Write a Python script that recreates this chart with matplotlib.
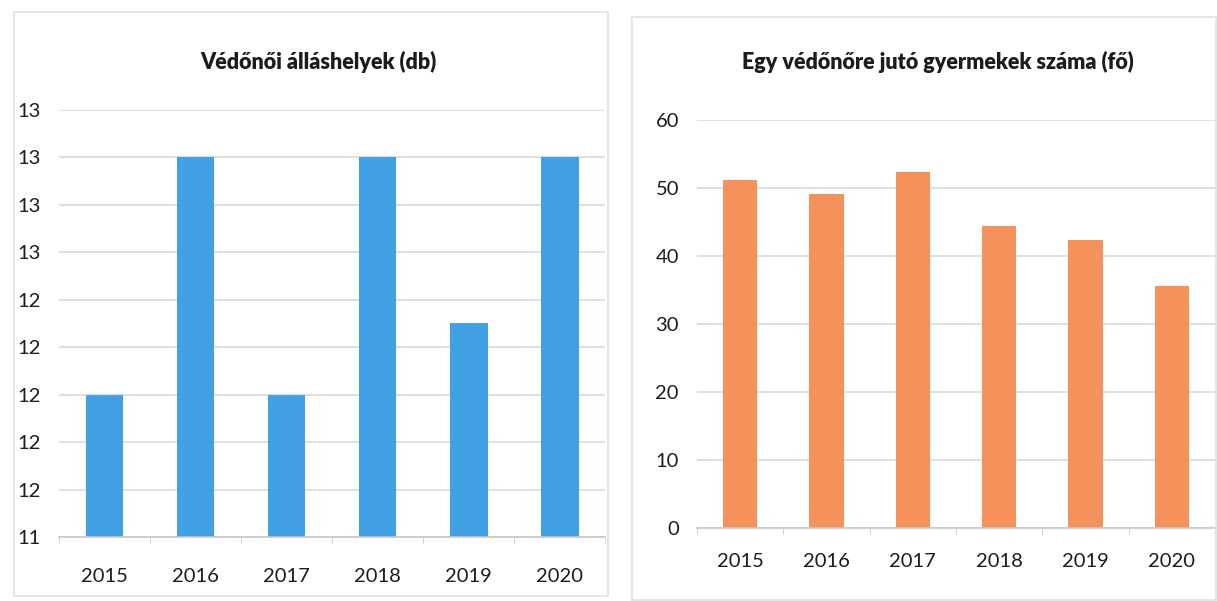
import numpy as np
import matplotlib.pyplot as plt
from matplotlib.ticker import FormatStrFormatter, FixedLocator
from matplotlib.patches import Rectangle

plt.rcParams['font.family'] = ['Lato', 'DejaVu Sans']

years = ['2015', '2016', '2017', '2018', '2019', '2020']
allashelyek = [12.0, 13.0, 12.0, 13.0, 12.3, 13.0]
gyermek_per_vedono = [51.2, 49.1, 52.4, 44.4, 42.4, 35.6]

left_title = 'Védőnői álláshelyek (db)'
right_title = 'Egy védőnőre jutó gyermekek száma (fő)'

blue = '#42a0e4'
orange = '#f5915a'
grid_col = '#d9d9d9'
text_col = '#1c1c1c'

fig = plt.figure(figsize=(12.17, 6.01), dpi=100)

# panel frames (Excel chart boxes)
fig.patches.append(Rectangle((14 / 1217, 1 - 596 / 601), 594 / 1217, 584 / 601,
                             transform=fig.transFigure, fill=False,
                             edgecolor='#e0e0e0', linewidth=1.2))
fig.patches.append(Rectangle((632 / 1217, 1 - 600 / 601), 584 / 1217, 583 / 601,
                             transform=fig.transFigure, fill=False,
                             edgecolor='#e0e0e0', linewidth=1.2))

ax1 = fig.add_axes([0.0485, 0.1065, 0.449, 0.7105])
ax2 = fig.add_axes([0.5727, 0.1215, 0.4256, 0.679])

x = np.arange(len(years))


def style(ax, pad_y, pad_x):
    ax.set_axisbelow(True)
    ax.yaxis.grid(True, color=grid_col, linewidth=1.2)
    for s in ['top', 'right', 'left']:
        ax.spines[s].set_visible(False)
    ax.spines['bottom'].set_color('#c8c8c8')
    ax.spines['bottom'].set_linewidth(1.2)
    ax.tick_params(axis='y', length=0, pad=pad_y, labelsize=14.5, labelcolor=text_col)
    ax.tick_params(axis='x', length=0, pad=pad_x, labelsize=14.5, labelcolor=text_col)
    ax.set_xticks(x)
    ax.set_xticklabels(years)
    ax.set_xlim(-0.5, len(years) - 0.5)
    # small category separator ticks on the baseline
    ax.xaxis.set_minor_locator(FixedLocator(np.arange(-0.5, len(years), 1.0)))
    ax.tick_params(axis='x', which='minor', length=4, color='#c8c8c8', direction='out')


ax1.bar(x, allashelyek, width=0.41, color=blue, bottom=0)
ax1.set_ylim(11.4, 13.2)
ax1.set_yticks(np.round(np.arange(11.4, 13.21, 0.2), 2))
ax1.yaxis.set_major_formatter(FormatStrFormatter('%.0f'))
style(ax1, 13, 22)

ax2.bar(x, gyermek_per_vedono, width=0.4, color=orange)
ax2.set_ylim(0, 60)
ax2.set_yticks(np.arange(0, 61, 10))
style(ax2, 13, 18)

fig.text(318 / 1217, 1 - 62 / 601, left_title, ha='center', va='center',
         fontsize=15.5, fontweight='heavy', color=text_col)
fig.text(938 / 1217, 1 - 62 / 601, right_title, ha='center', va='center',
         fontsize=15.5, fontweight='heavy', color=text_col)

fig.savefig('out.png', dpi=100)
